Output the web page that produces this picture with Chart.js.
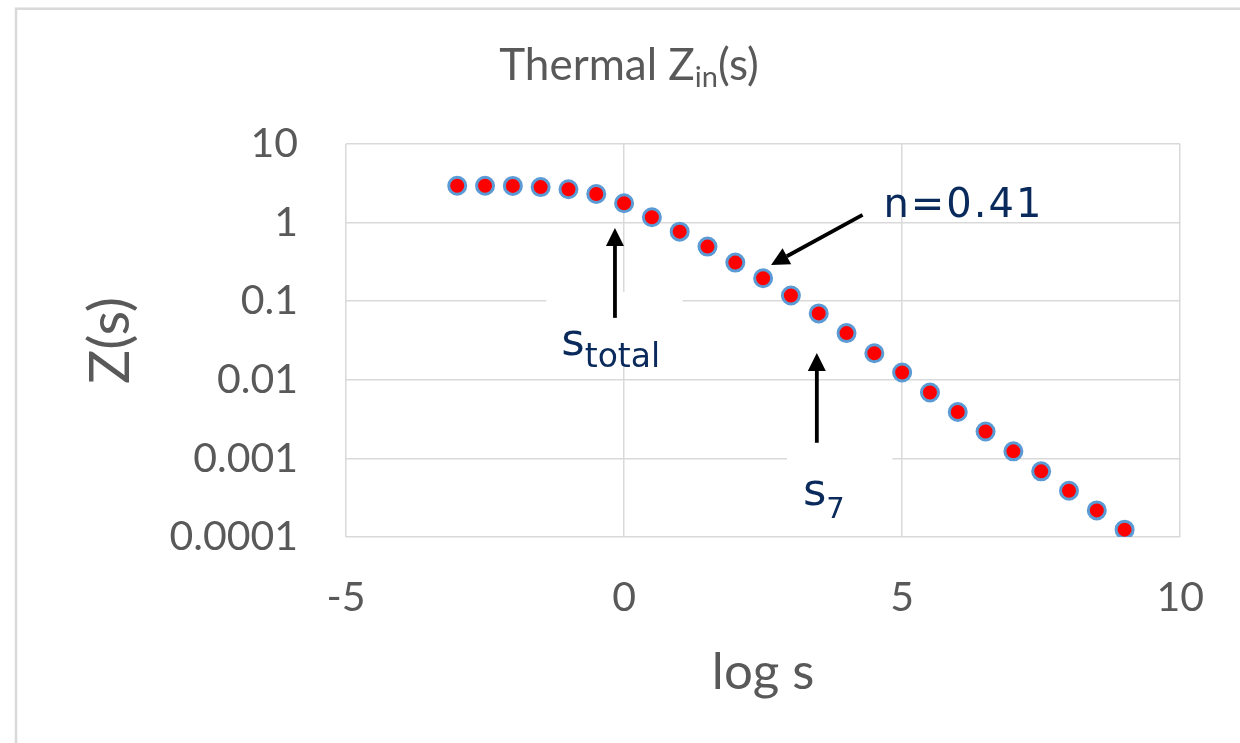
<!DOCTYPE html>
<html>
<head>
<meta charset="utf-8">
<script src="https://cdn.jsdelivr.net/npm/chart.js@4.4.1/dist/chart.umd.min.js"></script>
<style>
html,body{margin:0;padding:0;background:#fff;overflow:hidden}
#wrap{width:1240px;height:743px;position:relative}
</style>
</head>
<body>
<div id="wrap"><canvas id="c" width="1240" height="743"></canvas></div>
<script>
// ---- data ----
const logS = [-3, -2.5, -2, -1.5, -1, -0.5, 0, 0.5, 1, 1.5, 2, 2.5, 3, 3.5, 4, 4.5, 5, 5.5, 6, 6.5, 7, 7.5, 8, 8.5, 9];
const zValues = [2.94, 2.94, 2.93, 2.83, 2.66, 2.31, 1.76, 1.17, 0.767, 0.495, 0.310, 0.196, 0.118, 0.070, 0.0393, 0.0218, 0.0124, 0.0069, 0.00389, 0.00220, 0.00123, 0.000684, 0.000388, 0.000218, 0.000124];
const xTicks = [-5, 0, 5, 10];
const yTicks = [0.0001, 0.001, 0.01, 0.1, 1, 10];
const yTickLabels = ['0.0001', '0.001', '0.01', '0.1', '1', '10'];
const chartTitle = ['Thermal Z', 'in', '(s)'];
const xTitle = 'log s';
const yTitle = 'Z(s)';

// ---- annotations (in data coordinates: [log s, Z]) ----
const annoBoxes = [
  { from: [-1.397, 0.1315], to: [1.052, 0.01462] },
  { from: [2.930, 0.00150], to: [4.825, 0.000135] }
];
const annoArrows = [
  { from: [-0.164, 0.0614], to: [-0.164, 0.855] },
  { from: [3.466, 0.00158], to: [3.466, 0.0220] },
  { from: [4.288, 1.252], to: [2.643, 0.2897] }
];
const annoTexts = [
  { at: [4.664, 1.181], main: 'n=0.41', sub: '', mainSize: 40, subSize: 0, subDrop: 0, spacing: 2 },
  { at: [-1.129, 0.0208], main: 's', sub: 'total', mainSize: 45, subSize: 33, subDrop: 12, spacing: 0 },
  { at: [3.216, 0.000258], main: 's', sub: '7', mainSize: 45, subSize: 29, subDrop: 13, spacing: 0 }
];

const GRID = '#d9d9d9';
const TXT = '#595959';
const NAVY = '#0a2a5c';

const deco = {
  id: 'deco',
  beforeDraw(chart) {
    const ctx = chart.ctx;
    ctx.save();
    ctx.fillStyle = '#ffffff';
    ctx.fillRect(0, 0, chart.width, chart.height);
    ctx.strokeStyle = GRID;
    ctx.lineWidth = 2.5;
    ctx.strokeRect(16, 8.7, chart.width + 20, chart.height + 20);
    ctx.restore();
  },
  beforeDatasetsDraw(chart) {
    const ctx = chart.ctx, sx = chart.scales.x, sy = chart.scales.y;
    ctx.save();
    ctx.fillStyle = '#ffffff';
    annoBoxes.forEach(b => {
      const x1 = sx.getPixelForValue(b.from[0]), y1 = sy.getPixelForValue(b.from[1]);
      const x2 = sx.getPixelForValue(b.to[0]), y2 = sy.getPixelForValue(b.to[1]);
      ctx.fillRect(Math.min(x1, x2), Math.min(y1, y2), Math.abs(x2 - x1), Math.abs(y2 - y1));
    });
    ctx.restore();
  },
  afterDatasetsDraw(chart) {
    const ctx = chart.ctx, sx = chart.scales.x, sy = chart.scales.y;
    ctx.save();
    // arrows
    annoArrows.forEach(a => {
      const x1 = sx.getPixelForValue(a.from[0]), y1 = sy.getPixelForValue(a.from[1]);
      const x2 = sx.getPixelForValue(a.to[0]), y2 = sy.getPixelForValue(a.to[1]);
      const ang = Math.atan2(y2 - y1, x2 - x1);
      const hl = 18, hw = 9;
      const bx = x2 - hl * Math.cos(ang), by = y2 - hl * Math.sin(ang);
      ctx.strokeStyle = '#000';
      ctx.lineWidth = 3.8;
      ctx.beginPath();
      ctx.moveTo(x1, y1);
      ctx.lineTo(bx, by);
      ctx.stroke();
      ctx.fillStyle = '#000';
      ctx.beginPath();
      ctx.moveTo(x2, y2);
      ctx.lineTo(bx + hw * Math.sin(ang), by - hw * Math.cos(ang));
      ctx.lineTo(bx - hw * Math.sin(ang), by + hw * Math.cos(ang));
      ctx.closePath();
      ctx.fill();
    });
    // annotation texts
    ctx.fillStyle = NAVY;
    ctx.textBaseline = 'alphabetic';
    ctx.textAlign = 'left';
    annoTexts.forEach(t => {
      const x = sx.getPixelForValue(t.at[0]), y = sy.getPixelForValue(t.at[1]);
      ctx.letterSpacing = t.spacing + 'px';
      ctx.font = t.mainSize + 'px "DejaVu Sans"';
      ctx.fillText(t.main, x, y);
      if (t.sub) {
        const w = ctx.measureText(t.main).width;
        ctx.font = t.subSize + 'px "DejaVu Sans"';
        ctx.fillText(t.sub, x + w, y + t.subDrop);
      }
    });
    ctx.letterSpacing = '0px';
    // chart title with subscript
    const big = '44px Lato', small = '29px Lato';
    ctx.font = big; const w1 = ctx.measureText(chartTitle[0]).width; const w3 = ctx.measureText(chartTitle[2]).width;
    ctx.font = small; const w2 = ctx.measureText(chartTitle[1]).width;
    const total = w1 + w2 + w3;
    let tx = 629 - total / 2;
    const ty = 80;
    ctx.fillStyle = TXT;
    ctx.font = big; ctx.fillText(chartTitle[0], tx, ty); tx += w1;
    ctx.font = small; ctx.fillText(chartTitle[1], tx, ty + 7); tx += w2;
    ctx.font = big; ctx.fillText(chartTitle[2], tx, ty);
    ctx.restore();
  }
};

new Chart(document.getElementById('c'), {
  type: 'scatter',
  data: {
    datasets: [{
      data: logS.map((x, i) => ({ x: x, y: zValues[i] })),
      backgroundColor: '#ff0000',
      borderColor: '#5b9bd5',
      borderWidth: 3,
      pointRadius: 8.5,
      pointHoverRadius: 8.5,
      showLine: false
    }]
  },
  options: {
    responsive: false,
    devicePixelRatio: 1,
    animation: false,
    layout: { padding: { left: 0, top: 144, right: 56, bottom: 0 } },
    plugins: { legend: { display: false }, tooltip: { enabled: false }, title: { display: false } },
    scales: {
      x: {
        type: 'linear',
        position: 'bottom',
        min: -5, max: 10,
        afterBuildTicks: s => { s.ticks = xTicks.map(v => ({ value: v })); },
        afterFit: s => { s.height = 206; },
        ticks: { font: { family: 'Lato', size: 41 }, color: TXT, padding: 36, maxRotation: 0 },
        grid: { color: GRID, lineWidth: 1.5, drawTicks: false },
        border: { display: false },
        title: { display: true, text: xTitle, color: TXT, font: { family: 'Lato', size: 51 }, padding: { top: 0, bottom: 40 } }
      },
      y: {
        type: 'logarithmic',
        min: 0.0001, max: 10,
        afterBuildTicks: s => { s.ticks = yTicks.map(v => ({ value: v })); },
        afterFit: s => { s.width = 346; },
        ticks: { font: { family: 'Lato', size: 41 }, color: TXT, padding: 48, callback: (v, i) => yTickLabels[i] },
        grid: { color: GRID, lineWidth: 1.5, drawTicks: false },
        border: { display: false },
        title: { display: true, text: yTitle, color: TXT, font: { family: 'Lato', size: 57 }, padding: { top: 76, bottom: 0 } }
      }
    }
  },
  plugins: [deco]
});
</script>
</body>
</html>
